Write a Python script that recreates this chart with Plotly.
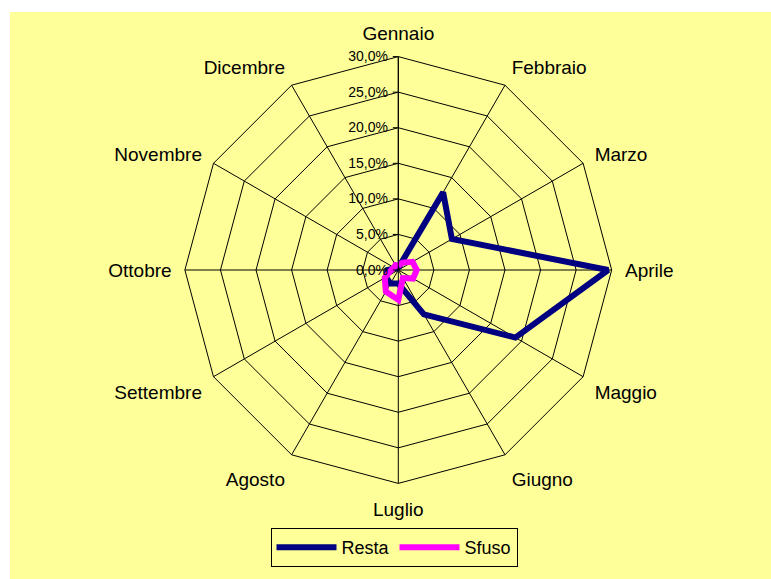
import plotly.graph_objects as go

# Monthly shares (fraction of the year) for the two product lines
mesi = ["Gennaio", "Febbraio", "Marzo", "Aprile", "Maggio", "Giugno",
        "Luglio", "Agosto", "Settembre", "Ottobre", "Novembre", "Dicembre"]
resta = [0.003, 0.126, 0.087, 0.295, 0.190, 0.072,
         0.019, 0.022, 0.020, 0.015, 0.005, 0.003]
sfuso = [0.006, 0.012, 0.023, 0.026, 0.024, 0.013,
         0.042, 0.035, 0.022, 0.010, 0.007, 0.008]
radial_ticks = [0, 0.05, 0.10, 0.15, 0.20, 0.25, 0.30]

W, H = 771, 579
YELLOW = "#FFFF99"
FONT = "Arial, Liberation Sans, sans-serif"

# Polar area: centre and outer radius in pixels
cx, cy, R = 398.3, 270.0, 213.4


def closed(vals):
    return vals + vals[:1]


fig = go.Figure()
fig.add_trace(go.Scatterpolar(
    r=closed(resta), theta=closed(mesi), name="Resta", mode="lines",
    line=dict(color="#000080", width=6),
))
fig.add_trace(go.Scatterpolar(
    r=closed(sfuso), theta=closed(mesi), name="Sfuso", mode="lines",
    line=dict(color="#FF00FF", width=6),
))

fig.update_layout(
    width=W, height=H,
    margin=dict(l=0, r=0, t=0, b=0),
    paper_bgcolor="white",
    separators=",.",
    font=dict(family=FONT, color="black"),
    shapes=[dict(type="rect", xref="paper", yref="paper",
                 x0=10 / W, x1=1, y0=0, y1=(H - 12) / H,
                 fillcolor=YELLOW, line=dict(width=0), layer="below")],
    polar=dict(
        domain=dict(x=[(cx - R) / W, (cx + R) / W],
                    y=[(H - cy - R) / H, (H - cy + R) / H]),
        bgcolor=YELLOW,
        gridshape="linear",
        angularaxis=dict(
            direction="clockwise", rotation=90,
            categoryorder="array", categoryarray=mesi,
            showline=True, linecolor="black", linewidth=1,
            gridcolor="black", gridwidth=1,
            ticks="outside", ticklen=9, tickcolor="rgba(0,0,0,0)",
            tickfont=dict(size=19, family=FONT, color="black"),
        ),
        radialaxis=dict(
            range=[0, 0.30], tickvals=radial_ticks, tickformat=".1%",
            angle=90, side="counterclockwise", tickangle=90,
            showline=True, linecolor="black", linewidth=1,
            gridcolor="black", gridwidth=1,
            ticks="outside", ticklen=5, tickcolor="black",
            tickfont=dict(size=14, family=FONT, color="black"),
        ),
    ),
    legend=dict(
        orientation="h", x=394 / W, xanchor="center",
        y=12 / H, yanchor="bottom",
        bgcolor=YELLOW, bordercolor="black", borderwidth=1,
        font=dict(size=18, family=FONT, color="black"),
        itemwidth=60,
    ),
)

fig.write_html("out.html")
